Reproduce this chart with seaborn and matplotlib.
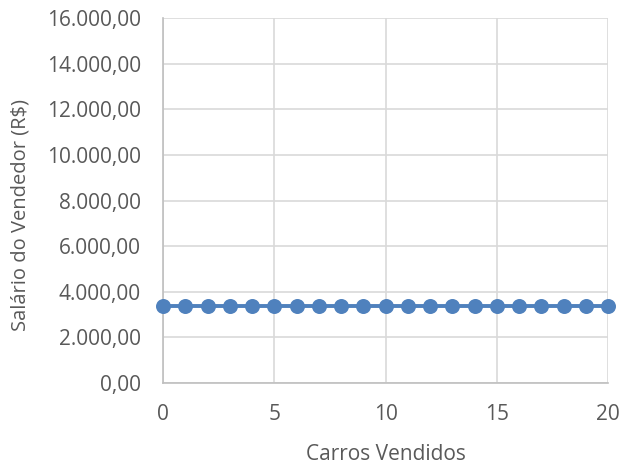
import numpy as np
import pandas as pd
import seaborn as sns
import matplotlib.pyplot as plt
from matplotlib.ticker import FuncFormatter, MultipleLocator

# --- data ---
carros = list(range(0, 21))
salario = [3400] * 21

df = pd.DataFrame({"Carros Vendidos": carros, "Salario": salario})

sns.set_style("white")
plt.rcParams['font.family'] = ['Open Sans', 'DejaVu Sans']

fig = plt.figure(figsize=(6.23, 4.66), dpi=100)
ax = fig.add_axes([0.262, 0.178, 0.714, 0.783])

sns.lineplot(data=df, x="Carros Vendidos", y="Salario", ax=ax, color="#4F81BD",
             linewidth=2.8, marker="o", markersize=10.8, markeredgewidth=0,
             clip_on=False, zorder=5)

def br_fmt(v, pos):
    s = f"{v:,.2f}"
    return s.replace(",", "X").replace(".", ",").replace("X", ".")

ax.set_xlim(0, 20)
ax.set_ylim(0, 16000)
ax.xaxis.set_major_locator(MultipleLocator(5))
ax.yaxis.set_major_locator(MultipleLocator(2000))
ax.yaxis.set_major_formatter(FuncFormatter(br_fmt))

ax.grid(True, color="#D9D9D9", linewidth=1.2)
ax.set_axisbelow(True)
for s in ["top", "right"]:
    ax.spines[s].set_visible(False)
for s in ["left", "bottom"]:
    ax.spines[s].set_color("#BFBFBF")
    ax.spines[s].set_linewidth(1.2)

ax.tick_params(axis="x", length=0, labelsize=15, colors="#595959", pad=15)
ax.tick_params(axis="y", length=0, labelsize=15, colors="#595959", pad=16)
ax.set_xlabel("Carros Vendidos", fontsize=15, color="#595959", labelpad=14)
ax.set_ylabel("Salário do Vendedor (R$)", fontsize=14.5, color="#595959")
ax.yaxis.set_label_coords(-0.298, 0.46)

fig.savefig("out.png", dpi=100)
